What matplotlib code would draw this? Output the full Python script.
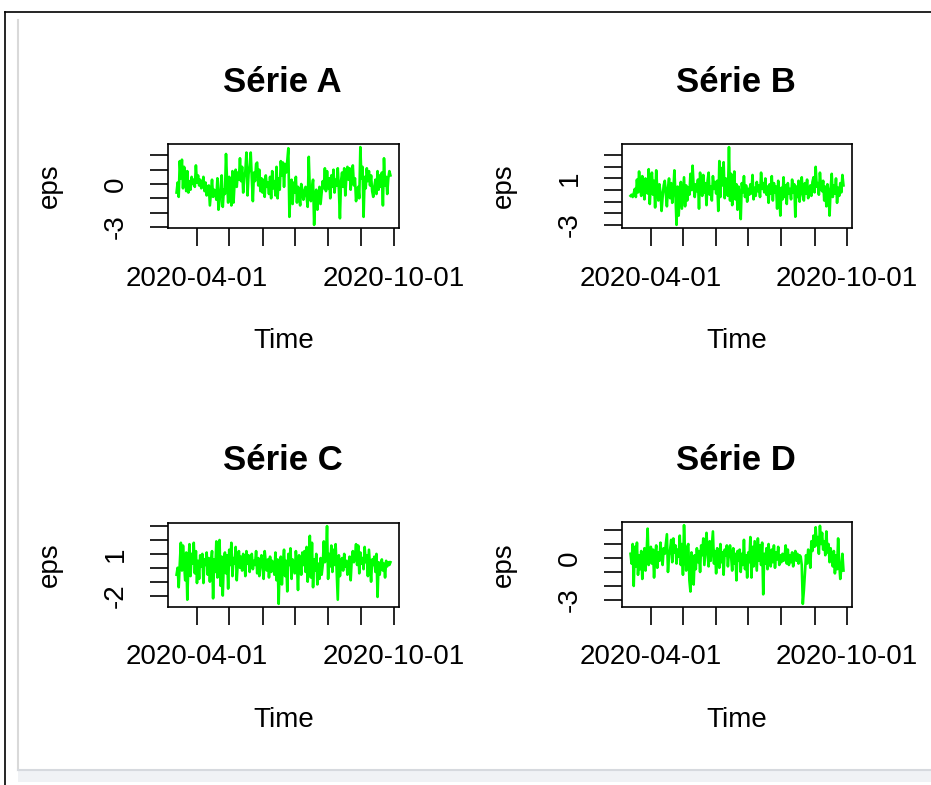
import numpy as np
import pandas as pd
import matplotlib
matplotlib.use('Agg')
from matplotlib import pyplot as plt
from matplotlib.lines import Line2D
from matplotlib.patches import Rectangle

plt.rcParams['font.family'] = ['Liberation Sans', 'DejaVu Sans']

# residus journaliers
debut = '2020-03-13'
serie_a = [-0.6, 0.1, -0.9, 1.6, 0.4, 1.7, -0.3, 1.2, 0.8, -0.5,
           0.9, -0.6, 0.2, -0.4, 0.5, 0.0, 0.3, -0.2, 1.3, 0.1,
           0.6, -0.1, 0.3, -0.3, -0.2, 0.5, -0.5, 0.1, -0.8, -0.2,
           -0.1, -1.5, -0.6, 0.3, -0.9, -0.4, -0.6, -1.1, 0.4, -1.8,
           -1.2, -0.2, 0.6, -1.6, -0.4, -0.7, 2.1, 0.2, -1.3, 0.5,
           -0.3, -1.5, 0.9, -1.3, 0.1, 1.0, -0.2, 0.8, 0.3, 1.8,
           0.2, 1.2, -0.6, 0.5, 0.9, 2.2, -0.8, 0.7, 1.3, 2.2,
           0.4, -1.2, 0.8, 0.2, 1.4, 1.5, -0.1, 1.0, -0.5, 0.4,
           -0.6, 0.3, -0.9, 0.6, -0.2, 0.1, -0.7, 0.5, -1.0, 0.9,
           -0.3, 0.2, -0.8, 1.2, -1.0, 0.4, -0.4, 1.6, 0.6, 1.5,
           -0.2, 1.4, 0.8, 1.6, 2.5, -2.3, -0.5, 0.3, -1.4, 0.1,
           -0.6, 0.5, -1.3, -0.2, -0.8, -1.5, 0.0, -0.4, -1.1, -0.6,
           -0.2, -0.9, -1.6, 1.9, -0.5, -1.2, -0.3, 0.3, -2.86, -0.7,
           -0.4, -1.8, -0.9, -0.2, -1.4, -0.6, 0.2, -0.3, 1.1, -0.5,
           0.9, -0.3, 0.4, -1.0, 0.6, -0.2, 1.0, -0.6, 0.3, -0.1,
           1.1, -0.4, -2.4, 0.2, 0.8, -0.2, 1.1, -0.8, 0.5, 1.2,
           0.3, 1.1, -0.4, 0.7, 1.3, -0.1, 0.4, -1.2, -0.5, -0.2,
           -1.0, 2.58, 0.4, 1.2, -2.3, 0.5, -0.3, 1.1, 0.2, 0.9,
           -0.1, 0.6, -0.5, -0.9, -0.2, 0.3, -0.7, 0.9, -0.4, 0.6,
           -0.2, 0.8, -1.5, 1.8, -0.1, 0.5, -0.7, 0.4, 0.9, 0.6]
serie_b = [-0.5, -0.4, -0.6, -0.3, 0.1, -0.6, 0.9, -0.2, 1.6, 0.2,
           -0.5, 1.2, 0.3, -0.8, 1.0, 0.4, -0.3, 1.8, -1.2, 0.6,
           1.5, -0.4, 0.8, -1.5, 1.7, 0.1, -0.9, 0.5, -0.2, -1.8,
           -0.6, 0.4, 0.8, -0.3, -1.4, 0.2, 1.0, -0.7, 0.6, -1.1,
           -0.1, 1.7, -0.4, -3.0, 0.3, -2.2, -0.5, 0.7, -1.6, -0.2,
           1.1, -1.4, 0.4, -0.9, 0.2, -0.4, 1.4, 0.0, 2.1, 0.3,
           -0.6, 0.5, -0.1, 0.9, -1.6, 1.5, 0.2, -0.5, 1.3, -0.2,
           0.6, -1.3, 0.8, 1.5, -0.4, 0.3, -0.9, 1.2, 0.1, 0.7,
           -0.3, 0.8, -1.8, 2.5, -0.6, 1.9, 0.4, 2.4, -0.7, 1.0,
           0.9, -0.5, 3.7, -0.9, 1.4, -1.3, -0.4, 1.6, -0.8, 0.5,
           -1.7, 0.3, -0.5, -2.5, 0.6, -0.2, 1.2, -0.6, 0.4, -1.0,
           0.1, -0.4, 0.5, -0.3, 1.3, -0.8, 0.2, -0.5, 0.7, -0.1,
           0.4, -0.6, 1.5, 0.1, 0.6, -0.2, 1.0, -0.4, 0.3, -1.1,
           0.5, -0.3, 1.2, -0.9, 0.6, -0.2, 0.3, -1.6, 0.8, -0.4,
           -2.2, 0.2, -0.8, 1.1, -0.6, 0.4, -1.2, 0.6, -0.3, 0.1,
           -0.8, 0.9, -0.2, 0.5, -2.3, 0.3, -0.6, 0.8, -1.0, 0.2,
           1.1, -0.4, -0.9, 0.6, -0.3, 0.9, -0.7, 0.1, 0.4, -0.5,
           0.7, 1.1, -0.2, 2.0, 0.3, 0.6, -0.4, 1.5, 0.2, -0.1,
           0.8, -0.9, 0.3, -1.4, 0.5, -0.2, -2.2, 0.1, 1.4, -0.6,
           0.4, -0.3, 1.0, -1.1, 0.2, -0.5, 0.6, -0.2, 1.3, 0.4]
serie_c = [-0.5, 0.0, -1.4, 0.3, 1.8, -0.2, 1.6, 0.4, -0.9, 1.1,
           -2.3, 0.2, 1.7, -0.6, 1.0, 0.3, 1.8, -0.4, 1.2, -1.1,
           0.5, -0.8, 0.9, 0.1, 1.0, -1.1, 0.6, 0.2, 1.1, -0.5,
           0.7, -1.0, 0.3, 1.2, -2.2, 0.6, -0.3, 1.9, -0.7, 0.4,
           2.0, -1.3, 0.8, -2.0, 0.5, 1.1, -0.4, 0.9, -1.5, 1.3,
           0.2, 1.8, -0.6, 0.7, 0.3, 1.5, -0.9, 0.4, 1.2, 0.0,
           0.8, -0.2, 1.0, 0.5, -0.6, 1.2, 0.3, 0.9, -0.3, 0.6,
           1.0, -0.1, 0.5, 0.2, 1.2, -0.4, 0.7, -0.6, 0.3, 0.9,
           0.1, -0.8, 1.2, 0.4, -0.2, 0.6, -0.7, 0.8, -0.3, 0.5,
           0.2, -0.5, 1.1, -0.9, 0.6, -2.6, 0.4, 0.8, -1.2, 0.3,
           1.3, -0.6, 0.5, -1.7, 1.0, 0.2, 1.4, -0.8, 0.6, 0.1,
           -0.4, 1.2, 0.3, -1.6, 0.9, 0.5, -0.5, 1.1, 0.2, 1.2,
           -0.3, 1.5, -1.0, 0.4, 2.3, -0.7, 1.8, -1.4, 0.6, -0.2,
           1.0, -1.2, 0.3, -0.8, 0.7, -0.5, 0.2, 1.9, 0.4, 0.6,
           3.0, -0.8, 1.0, 0.1, 1.6, -0.3, 1.3, 0.2, 1.7, -0.4,
           -2.3, 0.9, -0.6, 0.3, 0.7, -0.2, 1.0, 0.1, 0.5, -0.5,
           0.3, 0.8, -0.9, 0.6, 1.2, 0.4, 0.8, 1.7, 0.2, 1.6,
           -0.4, 1.1, 0.3, 0.7, -0.1, 1.5, 0.4, 0.9, -0.6, 1.3,
           0.1, -1.0, 0.6, 0.2, 0.8, -0.3, 1.0, -2.1, 0.4, -0.5,
           0.2, 0.6, -0.2, 0.3, -0.7, 0.5, 0.1, 0.4, 0.2, 0.4]
serie_d = [0.3, -0.4, 1.0, -2.0, 0.8, -0.6, 1.1, -1.2, 0.2, -0.8,
           0.5, -1.5, -0.2, 0.7, -0.9, 0.3, 2.1, -0.5, -0.1, 0.8,
           -0.4, 0.6, -1.4, 0.2, 0.9, -0.7, 0.4, -0.2, 1.1, 0.1,
           -0.5, 0.7, 0.3, 1.0, 1.7, -1.0, 0.2, 0.6, 1.3, -0.3,
           1.4, 0.4, 0.9, -0.4, 0.6, 0.1, 1.6, -0.5, 1.0, -1.2,
           2.35, 0.3, -0.9, 0.8, 1.0, -1.6, -2.4, 0.4, -0.6, -1.9,
           0.2, -0.8, 0.7, -0.3, 0.5, -1.0, 0.9, 0.2, 1.4, -0.5,
           0.6, 1.8, 0.3, -0.6, 1.2, -0.2, 0.8, 1.9, -0.4, 0.5,
           -1.1, 0.7, 0.1, -0.7, 1.0, -0.3, 0.4, -1.2, 0.6, 0.2,
           0.9, -0.6, 0.5, 0.9, 0.1, -0.9, 0.7, -0.4, 0.3, -1.6,
           0.5, -0.2, 0.6, -1.0, 0.3, -0.5, 1.3, -0.8, 0.2, -1.4,
           0.4, -0.3, 1.5, -1.4, 0.8, -0.6, 1.2, 0.1, -0.9, 1.4,
           -0.2, 0.9, -0.5, 1.1, -2.6, 0.3, -0.4, 0.7, -0.8, 1.0,
           0.0, -0.6, 0.6, -0.3, 0.9, -0.7, 0.4, -0.1, 0.8, -0.5,
           0.2, -0.3, 0.3, -0.2, 0.1, 0.9, -0.4, 0.6, -0.5, 0.2,
           -0.3, 0.4, -0.6, 0.1, 0.5, -0.2, 0.3, -0.4, 0.2, 0.1,
           -0.5, -3.28, -2.3, -1.0, 0.2, -0.4, 0.6, 0.3, -0.7, 1.2,
           0.5, 1.6, 0.8, 2.2, 0.9, 1.5, 0.3, 2.3, 1.0, 1.8,
           0.6, 1.2, 0.2, 1.9, 0.4, 1.0, -0.3, 0.7, 0.1, -0.6,
           0.5, -1.1, 0.2, -0.8, 1.4, -0.4, -1.5, -0.7, 0.3, -0.9]

titres = ['Série A', 'Série B', 'Série C', 'Série D']
series = [serie_a, serie_b, serie_c, serie_d]
yticks = [[-3, -2, -1, 0, 1, 2], [-3, -2, -1, 0, 1, 2, 3],
          [-2, -1, 0, 1, 2, 3], [-3, -2, -1, 0, 1, 2]]
ylabs = [[-3, 0], [-3, 1], [-2, 1], [-3, 0]]
xticks = pd.date_range('2020-04-01', '2020-10-01', freq='MS')
xlabs = ['2020-04-01', '2020-10-01']

W, H = 931, 785
fig = plt.figure(figsize=(W/100, H/100), dpi=100)

def fx(px):
    return px/W

def fy(py):
    return 1 - py/H

# cadre de la capture d'ecran
fig.add_artist(Line2D([fx(5), fx(931)], [fy(12), fy(12)], color='black', lw=1.2))
fig.add_artist(Line2D([fx(5), fx(5)], [fy(12), fy(785)], color='black', lw=1.2))
fig.add_artist(Line2D([fx(18), fx(18)], [fy(20), fy(770)], color='#d9d9d9', lw=1.5))
fig.add_artist(Line2D([fx(18), fx(931)], [fy(770), fy(770)], color='#d6d9de', lw=1.5))
fig.add_artist(Rectangle((fx(18), fy(782)), fx(931)-fx(18), 12/H,
                         transform=fig.transFigure, color='#f0f2f5', lw=0))

# boites des panneaux (pixels)
boites = [(168, 144, 399, 228), (622, 144, 852, 228),
          (168, 523, 399, 607), (622, 522, 852, 607)]

for i in range(4):
    x0, y0, x1, y1 = boites[i]
    ax = fig.add_axes([fx(x0), fy(y1), (x1-x0)/W, (y1-y0)/H])
    dates = pd.date_range(debut, periods=len(series[i]), freq='D')
    ax.plot(dates, series[i], color='#00ff00', lw=1.9)
    ax.margins(x=0.04, y=0.04)
    ax.set_xticks(xticks)
    ax.set_xticklabels([d.strftime('%Y-%m-%d') if d.strftime('%Y-%m-%d') in xlabs else ''
                        for d in xticks])
    ax.set_yticks(yticks[i])
    ax.set_yticklabels([str(v) if v in ylabs[i] else '' for v in yticks[i]])
    for lab in ax.get_yticklabels():
        lab.set_rotation(90)
        lab.set_va('center')
    ax.tick_params(axis='both', length=13, width=1.2, labelsize=20, color='black')
    ax.tick_params(axis='x', pad=14)
    ax.tick_params(axis='y', pad=15)
    for s in ax.spines.values():
        s.set_linewidth(1.2)
    cx = (x0 + x1)/2
    fig.text(fx(cx - 1), fy(y0 - 62), titres[i], ha='center', va='center',
             fontsize=25, fontweight='bold')
    fig.text(fx(cx), fy(y1 + 113), 'Time', ha='center', va='center', fontsize=20)
    fig.text(fx(x0 - 118), fy((y0 + y1)/2), 'eps', ha='center', va='center',
             fontsize=20, rotation=90)

fig.savefig('out.png', dpi=100)
